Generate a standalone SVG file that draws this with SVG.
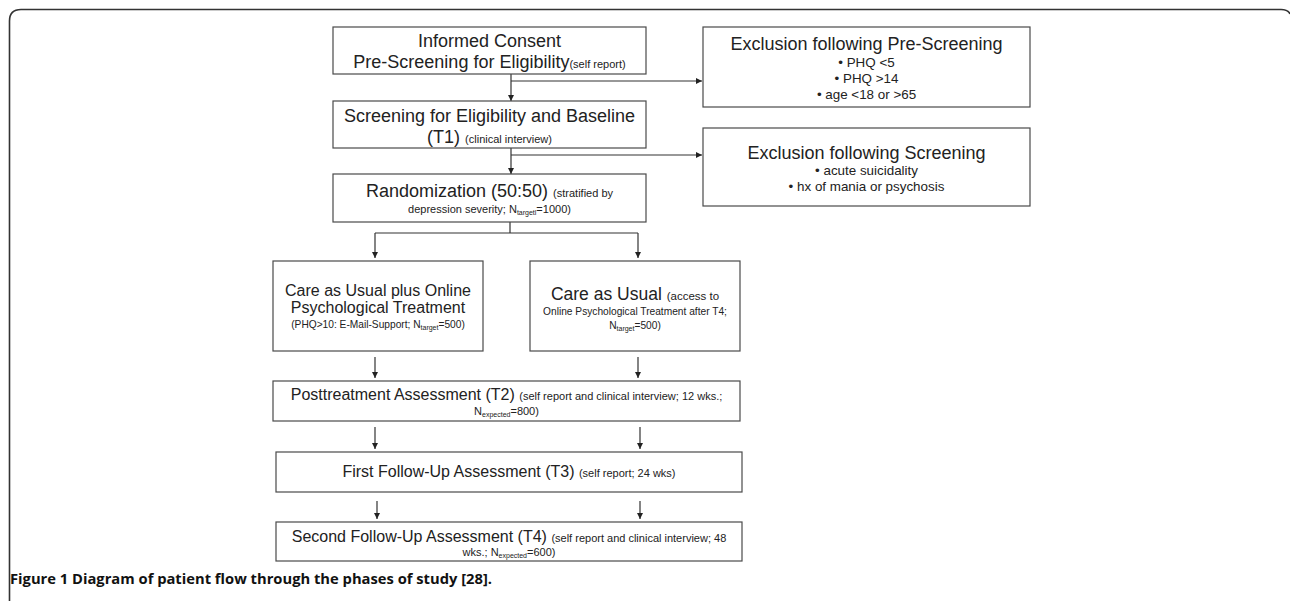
<svg xmlns="http://www.w3.org/2000/svg" width="1290" height="601" viewBox="0 0 1290 601">
<defs>
<style>
.box{fill:#fff;stroke:#4a4a4a;stroke-width:1.2}
.t{font-family:"Liberation Sans",Arial,sans-serif;fill:#222;text-anchor:middle}
.b{font-size:18px}
.m{font-size:16px}
.s{font-size:11px}
.xs{font-size:10.2px}
.u{font-size:13.4px}
.sub{font-size:7px}
.c{stroke:#333;stroke-width:1.2;fill:none}
</style>
<marker id="ah" viewBox="0 0 10 10" refX="10" refY="5" markerWidth="6" markerHeight="6" markerUnits="userSpaceOnUse" orient="auto">
<path d="M0,0 L10,5 L0,10 z" fill="#222"/>
</marker>
</defs>
<rect width="1290" height="601" fill="#fff"/>
<path d="M9.5 601 V21 Q9.5 9.5 21 9.5 H1281 Q1288 9.5 1290 14" fill="none" stroke="#333" stroke-width="1.6"/>

<g id="connectors">
<line class="c" x1="511" y1="74" x2="511" y2="101" marker-end="url(#ah)"/>
<line class="c" x1="511" y1="81" x2="702" y2="81" marker-end="url(#ah)"/>
<line class="c" x1="511" y1="148" x2="511" y2="174" marker-end="url(#ah)"/>
<line class="c" x1="511" y1="155" x2="702" y2="155" marker-end="url(#ah)"/>
<path class="c" d="M510 222 V233 M375 233 H638"/>
<line class="c" x1="375" y1="233" x2="375" y2="258" marker-end="url(#ah)"/>
<line class="c" x1="638" y1="233" x2="638" y2="258" marker-end="url(#ah)"/>
<line class="c" x1="375" y1="357" x2="375" y2="378" marker-end="url(#ah)"/>
<line class="c" x1="638" y1="357" x2="638" y2="378" marker-end="url(#ah)"/>
<line class="c" x1="375" y1="427" x2="375" y2="449" marker-end="url(#ah)"/>
<line class="c" x1="640" y1="427" x2="640" y2="449" marker-end="url(#ah)"/>
<line class="c" x1="377" y1="501" x2="377" y2="519" marker-end="url(#ah)"/>
<line class="c" x1="640" y1="501" x2="640" y2="519" marker-end="url(#ah)"/>
</g>

<g id="consent">
<rect class="box" x="333" y="27" width="313" height="47"/>
<text class="t b" x="489.5" y="47">Informed Consent</text>
<text class="t b" x="489.5" y="68">Pre-Screening for Eligibility<tspan class="s">(self report)</tspan></text>
</g>

<g id="screening">
<rect class="box" x="333" y="101" width="313" height="47"/>
<text class="t b" x="489.5" y="122">Screening for Eligibility and Baseline</text>
<text class="t b" x="489.5" y="143">(T1) <tspan class="s">(clinical interview)</tspan></text>
</g>

<g id="randomization">
<rect class="box" x="333" y="174" width="313" height="48"/>
<text class="t b" x="489.5" y="197">Randomization (50:50) <tspan class="s">(stratified by</tspan></text>
<text class="t s" x="489.5" y="213">depression severity; N<tspan class="sub" dy="2">targetl</tspan><tspan dy="-2">=1000)</tspan></text>
</g>

<g id="excl-prescreening">
<rect class="box" x="703" y="27" width="327" height="80"/>
<text class="t b" x="866.5" y="50">Exclusion following Pre-Screening</text>
<text class="t u" x="866.5" y="67">• PHQ &lt;5</text>
<text class="t u" x="866.5" y="83">• PHQ &gt;14</text>
<text class="t u" x="866.5" y="99">• age &lt;18 or &gt;65</text>
</g>

<g id="excl-screening">
<rect class="box" x="703" y="128" width="327" height="78"/>
<text class="t b" x="866.5" y="159">Exclusion following Screening</text>
<text class="t u" x="866.5" y="175">• acute suicidality</text>
<text class="t u" x="866.5" y="191">• hx of mania or psychosis</text>
</g>

<g id="intervention">
<rect class="box" x="273" y="261" width="210" height="90"/>
<text class="t m" x="378" y="296">Care as Usual plus Online</text>
<text class="t m" x="378" y="313">Psychological Treatment</text>
<text class="t xs" x="378" y="328">(PHQ&gt;10: E-Mail-Support; N<tspan class="sub" dy="2">target</tspan><tspan dy="-2">=500)</tspan></text>
</g>

<g id="control">
<rect class="box" x="530" y="261" width="210" height="90"/>
<text class="t" x="635" y="300" style="font-size:17.5px">Care as Usual <tspan style="font-size:11.5px">(access to</tspan></text>
<text class="t xs" x="635" y="315">Online Psychological Treatment after T4;</text>
<text class="t xs" x="635" y="329">N<tspan class="sub" dy="2">target</tspan><tspan dy="-2">=500)</tspan></text>
</g>

<g id="posttreatment">
<rect class="box" x="273" y="381" width="467" height="40"/>
<text class="t m" x="506.5" y="400">Posttreatment Assessment (T2) <tspan class="s">(self report and clinical interview; 12 wks.;</tspan></text>
<text class="t s" x="506.5" y="415">N<tspan class="sub" dy="2">expected</tspan><tspan dy="-2">=800)</tspan></text>
</g>

<g id="followup1">
<rect class="box" x="276" y="452" width="466" height="40"/>
<text class="t m" x="509" y="477">First Follow-Up Assessment (T3) <tspan class="s">(self report; 24 wks)</tspan></text>
</g>

<g id="followup2">
<rect class="box" x="276" y="522" width="466" height="39"/>
<text class="t m" x="509" y="542">Second Follow-Up Assessment (T4) <tspan class="s">(self report and clinical interview; 48</tspan></text>
<text class="t s" x="509" y="556">wks.; N<tspan class="sub" dy="2">expected</tspan><tspan dy="-2">=600)</tspan></text>
</g>

<text x="10" y="584" textLength="482" lengthAdjust="spacingAndGlyphs" style="font-family:'Open Sans','Liberation Sans',sans-serif;font-weight:bold;font-size:14.5px;fill:#111">Figure 1 Diagram of patient flow through the phases of study [28].</text>
</svg>
